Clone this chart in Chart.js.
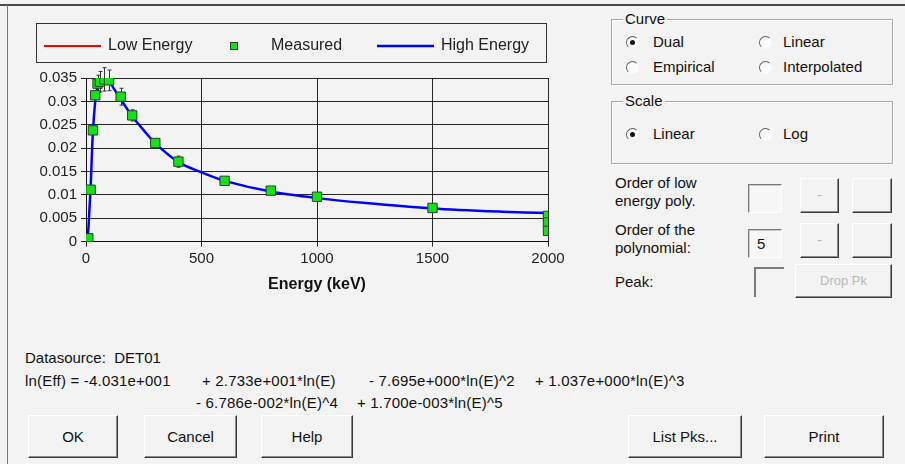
<!DOCTYPE html>
<html>
<head>
<meta charset="utf-8">
<script src="https://cdn.jsdelivr.net/npm/chart.js@4/dist/chart.umd.min.js"></script>
<style>
    body { margin: 0; width: 905px; height: 464px; background: #f3f3f3; position: relative; overflow: hidden;
        font-family: "Liberation Sans", Arial, sans-serif; font-size: 15px; color: #111; }
    .abs { position: absolute; white-space: nowrap; }
    #frame-top { left: 0; top: 4px; width: 905px; height: 2px; background: #4a4a4a; }
    #frame-left { left: 7px; top: 5px; width: 1px; height: 459px; background: #777; }
    #chart-box { left: 10px; top: 8px; width: 590px; height: 300px; }
    .group { border: 1px solid #a8a8a8; box-shadow: 1px 1px 0 #fff inset, 1px 1px 0 #fff; }
    .group-title { background: #f3f3f3; padding: 0 2px; }
    .radio { width: 13px; height: 13px; border-radius: 50%; border: 1px solid; border-color: #5e5e5e #fafafa #fafafa #5e5e5e; background: #fdfdfd; box-sizing: border-box; }
    .radio.on::after { content: ''; position: absolute; left: 3px; top: 3px; width: 5px; height: 5px; border-radius: 50%; background: #111; }
    .btn { box-sizing: border-box; border: 1px solid; border-color: #fff #3a3a3a #3a3a3a #fff; box-shadow: inset -1px -1px 0 #8a8a8a;
        background: #f3f3f3; text-align: center; }
    .btn.off { color: #b8b8b8; }
    .edit { box-sizing: border-box; border: 1px solid; border-color: #7a7a7a #fff #fff #7a7a7a; box-shadow: inset 1px 1px 0 #c8c8c8; background: #f7f7f7; padding-left: 8px; }
    .formula { letter-spacing: 0.2px; }
</style>
</head>
<body>
<div id="frame-top" class="abs"></div>
<div id="frame-left" class="abs"></div>
<div id="chart-box" class="abs"><canvas id="chart-efficiency" width="590" height="300"></canvas></div>

<!-- правая панель -->
<div class="abs group" style="left:611px; top:19px; width:280px; height:64px;"></div>
<div class="abs group-title" style="left:623px; top:10px;">Curve</div>
<div class="abs radio on" style="left:626px; top:36px;"></div>
<div class="abs" style="left:653px; top:33px;">Dual</div>
<div class="abs radio" style="left:759px; top:36px;"></div>
<div class="abs" style="left:783px; top:33px;">Linear</div>
<div class="abs radio" style="left:626px; top:61px;"></div>
<div class="abs" style="left:653px; top:58px;">Empirical</div>
<div class="abs radio" style="left:759px; top:61px;"></div>
<div class="abs" style="left:783px; top:58px;">Interpolated</div>

<div class="abs group" style="left:611px; top:101px; width:280px; height:61px;"></div>
<div class="abs group-title" style="left:623px; top:92px;">Scale</div>
<div class="abs radio on" style="left:626px; top:128px;"></div>
<div class="abs" style="left:653px; top:125px;">Linear</div>
<div class="abs radio" style="left:759px; top:128px;"></div>
<div class="abs" style="left:783px; top:125px;">Log</div>

<div class="abs" style="left:615px; top:174px; line-height:18px;">Order of low<br>energy poly.</div>
<div class="abs edit" style="left:748px; top:184px; width:34px; height:29px;"></div>
<div class="abs btn off" style="left:800px; top:178px; width:39px; height:35px; line-height:32px;">-</div>
<div class="abs btn off" style="left:852px; top:178px; width:40px; height:35px;"></div>

<div class="abs" style="left:615px; top:221px; line-height:18px;">Order of the<br>polynomial:</div>
<div class="abs edit" style="left:748px; top:229px; width:34px; height:29px; line-height:27px;">5</div>
<div class="abs btn off" style="left:800px; top:223px; width:39px; height:35px; line-height:32px;">-</div>
<div class="abs btn off" style="left:852px; top:223px; width:40px; height:35px;"></div>

<div class="abs" style="left:615px; top:273px;">Peak:</div>
<div class="abs" style="left:754px; top:267px; width:30px; height:30px; border-left:2px solid #7a7a7a; border-top:2px solid #7a7a7a; box-sizing:border-box;"></div>
<div class="abs btn off" style="left:795px; top:264px; width:97px; height:34px; line-height:31px; font-size:13px;">Drop Pk</div>

<!-- текст внизу -->
<div class="abs" style="left:25px; top:349px;">Datasource:&nbsp; DET01</div>
<div class="abs formula" style="left:25px; top:372px;">ln(Eff) = -4.031e+001</div>
<div class="abs formula" style="left:202px; top:372px;">+ 2.733e+001*ln(E)</div>
<div class="abs formula" style="left:369px; top:372px;">- 7.695e+000*ln(E)^2</div>
<div class="abs formula" style="left:535px; top:372px;">+ 1.037e+000*ln(E)^3</div>
<div class="abs formula" style="left:196px; top:394px;">- 6.786e-002*ln(E)^4</div>
<div class="abs formula" style="left:357px; top:394px;">+ 1.700e-003*ln(E)^5</div>

<div class="abs btn" style="left:28px; top:415px; width:90px; height:43px; line-height:41px;">OK</div>
<div class="abs btn" style="left:144px; top:415px; width:93px; height:43px; line-height:41px;">Cancel</div>
<div class="abs btn" style="left:261px; top:415px; width:92px; height:43px; line-height:41px;">Help</div>
<div class="abs btn" style="left:628px; top:415px; width:114px; height:43px; line-height:41px;">List Pks...</div>
<div class="abs btn" style="left:764px; top:415px; width:120px; height:43px; line-height:41px;">Print</div>

<script>
// измеренные точки эффективности
const measuredEnergy = [10, 20, 30, 40, 50, 60, 80, 100, 150, 200, 300, 400, 600, 800, 1000, 1500, 2000, 2000, 2000];
const measuredEff = [0.0007, 0.0111, 0.0238, 0.0313, 0.0338, 0.0342, 0.0347, 0.0345, 0.0310, 0.0270, 0.0211, 0.0171, 0.0130, 0.0109, 0.0096, 0.0072, 0.0055, 0.0041, 0.0023];
const measuredErr = [0, 0, 0, 0, 0.0018, 0.0022, 0.0025, 0.0022, 0.0018, 0.0012, 0.0008, 0.0012, 0, 0, 0, 0, 0, 0, 0];

// кривая высоких энергий
const highEnergy = [5, 10, 15, 20, 25, 30, 40, 50, 60, 70, 80, 90, 100, 120, 150, 200, 250, 300, 400, 500, 600, 800, 1000, 1200, 1500, 1800, 2000];
const highEff = [0.0, 0.0025, 0.0070, 0.0115, 0.0180, 0.0235, 0.0300, 0.0332, 0.0345, 0.0350, 0.0351, 0.0349, 0.0345, 0.0328, 0.0305, 0.0268, 0.0238, 0.0210, 0.0170, 0.0148, 0.0130, 0.0107, 0.0093, 0.0083, 0.0071, 0.0064, 0.0061];

// кривая низких энергий - на графике не видна, только в легенде
const lowEnergy = [];
const lowEff = [];

const xTicks = [0, 500, 1000, 1500, 2000];

const toPoints = (xs, ys) => xs.map((x, i) => ({x: x, y: ys[i]}));

const FONT = '"Liberation Sans", Arial, sans-serif';

// легенда в рамке, как в оригинале
const boxLegend = {
    id: 'boxLegend',
    afterDraw(chart) {
        const ctx = chart.ctx;
        const ds = chart.data.datasets;
        ctx.save();
        ctx.strokeStyle = '#333';
        ctx.lineWidth = 1;
        ctx.strokeRect(26.5, 15.5, 510, 39);
        ctx.font = '16px ' + FONT;
        ctx.textBaseline = 'middle';
        ctx.fillStyle = '#222';
        const y = 38;
        // Low Energy
        ctx.strokeStyle = ds[0].borderColor;
        ctx.lineWidth = 2;
        ctx.beginPath(); ctx.moveTo(34, y); ctx.lineTo(91, y); ctx.stroke();
        ctx.fillText(ds[0].label, 98, y);
        // Measured
        ctx.fillStyle = ds[1].backgroundColor;
        ctx.strokeStyle = ds[1].borderColor;
        ctx.lineWidth = 1;
        ctx.fillRect(220, y - 4, 8, 8);
        ctx.strokeRect(220.5, y - 3.5, 7, 7);
        ctx.fillStyle = '#222';
        ctx.fillText(ds[1].label, 261, y);
        // High Energy
        ctx.strokeStyle = ds[2].borderColor;
        ctx.lineWidth = 2.5;
        ctx.beginPath(); ctx.moveTo(367, y); ctx.lineTo(424, y); ctx.stroke();
        ctx.fillText(ds[2].label, 431, y);
        ctx.restore();
    }
};

// погрешности измерений
const errorBars = {
    id: 'errorBars',
    beforeDatasetsDraw(chart) {
        const ctx = chart.ctx;
        const xs = chart.scales.x, ys = chart.scales.y;
        ctx.save();
        ctx.strokeStyle = '#333';
        ctx.lineWidth = 1;
        measuredErr.forEach((err, i) => {
            if (!err) return;
            const px = Math.round(xs.getPixelForValue(measuredEnergy[i])) + 0.5;
            const top = ys.getPixelForValue(measuredEff[i] + err);
            const bottom = ys.getPixelForValue(measuredEff[i] - err);
            ctx.beginPath();
            ctx.moveTo(px, top); ctx.lineTo(px, bottom);
            ctx.moveTo(px - 2, top); ctx.lineTo(px + 2, top);
            ctx.moveTo(px - 2, bottom); ctx.lineTo(px + 2, bottom);
            ctx.stroke();
        });
        ctx.restore();
    }
};

new Chart(document.getElementById('chart-efficiency'), {
    type: 'scatter',
    data: {
        datasets: [{
            label: 'Low Energy',
            data: toPoints(lowEnergy, lowEff),
            showLine: true,
            borderColor: '#ff0000',
            borderWidth: 2,
            pointRadius: 0
        }, {
            label: 'Measured',
            data: toPoints(measuredEnergy, measuredEff),
            showLine: false,
            pointStyle: 'rect',
            pointRadius: 6.6,
            backgroundColor: '#18e018',
            borderColor: '#1a4a1a',
            borderWidth: 1
        }, {
            label: 'High Energy',
            data: toPoints(highEnergy, highEff),
            showLine: true,
            borderColor: '#0000ff',
            borderWidth: 2.5,
            pointRadius: 0,
            tension: 0.3
        }]
    },
    options: {
        responsive: false,
        animation: false,
        layout: {padding: {top: 70, right: 52, left: 0, bottom: 0}},
        plugins: {
            legend: {display: false},
            tooltip: {enabled: false}
        },
        scales: {
            x: {
                type: 'linear',
                min: 0,
                max: 2000,
                afterFit: s => { s.height = 66.4; },
                afterBuildTicks: s => { s.ticks = xTicks.map(v => ({value: v})); },
                grid: {color: '#262626', lineWidth: 1, tickLength: 5},
                border: {color: '#111', width: 1},
                ticks: {color: '#222', padding: 3, maxRotation: 0, font: {family: FONT, size: 15},
                    callback: v => String(v)},
                title: {display: true, text: 'Energy (keV)', color: '#111',
                    padding: {top: 0, bottom: 14}, font: {family: FONT, size: 16, weight: 'bold'}}
            },
            y: {
                min: 0,
                max: 0.035,
                afterFit: s => { s.width = 76; },
                grid: {color: '#262626', lineWidth: 1, tickLength: 5},
                border: {color: '#111', width: 1},
                ticks: {stepSize: 0.005, color: '#222', padding: 4, font: {family: FONT, size: 15},
                    callback: v => String(+v.toFixed(3))}
            }
        }
    },
    plugins: [boxLegend, errorBars]
});
</script>
</body>
</html>
